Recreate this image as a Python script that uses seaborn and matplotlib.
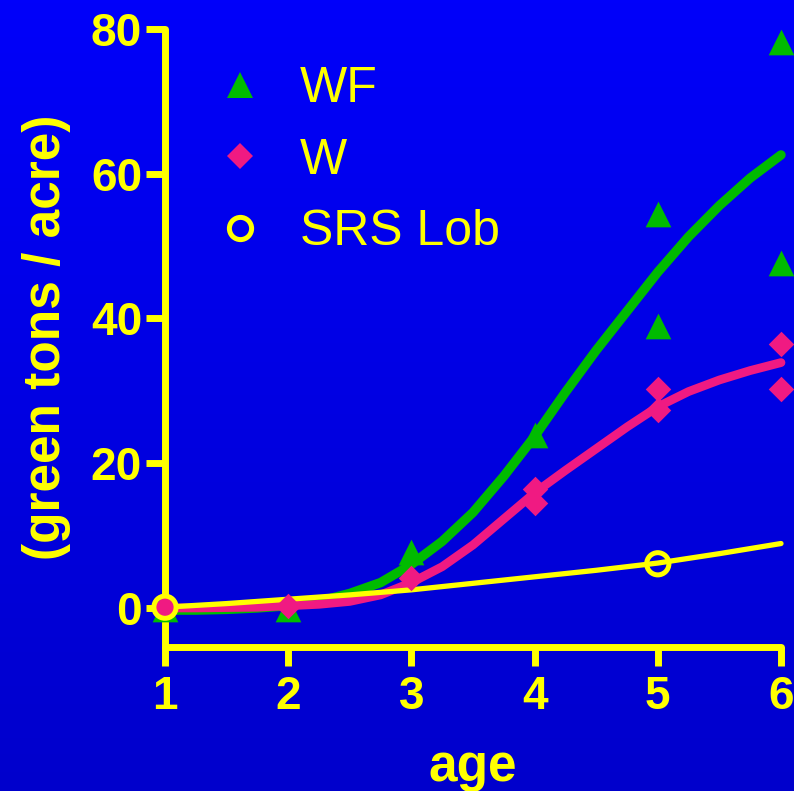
import numpy as np
import pandas as pd
import matplotlib
matplotlib.use("Agg")
import matplotlib.pyplot as plt
import seaborn as sns
from matplotlib.lines import Line2D

# ---------------- data ----------------
wf_age = [1, 2, 3, 4, 5, 5, 6, 6]
wf_tons = [-0.1, -0.1, 7.7, 23.9, 54.4, 39.0, 78.2, 47.7]

w_age = [1, 2, 3, 4, 4, 5, 5, 6, 6]
w_tons = [0.1, 0.2, 4.1, 16.5, 14.5, 30.3, 27.4, 36.5, 30.2]

srs_age = [1, 5]
srs_tons = [0.1, 6.1]

fit_age = [1.0, 1.25, 1.5, 1.75, 2.0, 2.25, 2.5, 2.75, 3.0, 3.25, 3.5,
           3.75, 4.0, 4.25, 4.5, 4.75, 5.0, 5.25, 5.5, 5.75, 6.0]
wf_fit = [-0.3, -0.3, -0.2, 0.0, 0.3, 0.9, 2.0, 3.5, 6.0, 9.2, 13.2,
          18.2, 23.7, 29.8, 35.6, 41.0, 46.4, 51.3, 55.6, 59.4, 62.6]
w_fit = [0.0, 0.0, 0.05, 0.1, 0.3, 0.5, 0.9, 1.8, 3.5, 5.7, 8.7,
         12.3, 15.9, 19.0, 22.0, 25.0, 27.8, 29.9, 31.5, 32.8, 33.9]

srs_fit_age = [1.0, 1.5, 2.0, 2.5, 3.0, 3.5, 4.0, 4.5, 5.0, 5.5, 6.0]
srs_fit = [0.1, 0.6, 1.2, 1.8, 2.5, 3.4, 4.3, 5.2, 6.2, 7.5, 8.9]

x_ticks = [1, 2, 3, 4, 5, 6]
y_ticks = [0, 20, 40, 60, 80]
series_labels = ["WF", "W", "SRS Lob"]

# ---------------- style ----------------
GREEN = "#00BB00"
PINK = "#F01A82"
YELLOW = "#FFFF00"

sns.set_style("ticks")
plt.rcParams["font.family"] = ["Liberation Sans", "DejaVu Sans"]

W, H = 794, 791
fig = plt.figure(figsize=(W / 100, H / 100), dpi=100)

# gradient background
bg = fig.add_axes([0, 0, 1, 1], zorder=-10)
grad = np.linspace(0, 1, 256).reshape(-1, 1)
top = np.array([0, 0, 250]) / 255
bot = np.array([0, 0, 204]) / 255
img = top[None, None, :] * (1 - grad[:, :, None]) + bot[None, None, :] * grad[:, :, None]
bg.imshow(img, aspect="auto", extent=[0, 1, 0, 1])
bg.axis("off")

ax = fig.add_axes([165 / W, 1 - 647 / H, 616 / W, 618 / H])
ax.set_facecolor("none")

fit_df = pd.DataFrame({"age": fit_age, "WF": wf_fit, "W": w_fit})
srs_df = pd.DataFrame({"age": srs_fit_age, "SRS": srs_fit})

line_kw = dict(solid_capstyle="round", solid_joinstyle="round")
sns.lineplot(data=fit_df, x="age", y="WF", color=GREEN, lw=6.8, ax=ax,
             zorder=3, **line_kw)
sns.lineplot(data=fit_df, x="age", y="W", color=PINK, lw=6.3, ax=ax,
             zorder=4, **line_kw)
sns.lineplot(data=srs_df, x="age", y="SRS", color=YELLOW, lw=3.8, ax=ax,
             zorder=5, **line_kw)

sns.scatterplot(x=wf_age, y=wf_tons, marker="^", s=18.5 ** 2, color=GREEN,
                linewidth=0, ax=ax, zorder=6)
sns.scatterplot(x=w_age, y=w_tons, marker="D", s=13 ** 2, color=PINK,
                linewidth=0, ax=ax, zorder=7)
sns.scatterplot(x=srs_age, y=srs_tons, marker="o", s=16 ** 2, color=YELLOW,
                linewidth=3.6, ax=ax, zorder=8)
coll = ax.collections[-1]
coll.set_facecolor("none")
coll.set_edgecolor(YELLOW)
for c in ax.collections:
    c.set_clip_on(False)
for l in ax.lines:
    l.set_clip_on(False)

ax.set_xlim(1, 6)
ax.set_ylim(-5.4, 80)
ax.set_xticks(x_ticks)
ax.set_yticks(y_ticks)
ax.set_xticklabels([str(v) for v in x_ticks])
ax.set_yticklabels([str(v) for v in y_ticks])

for side in ["top", "right"]:
    ax.spines[side].set_visible(False)
for side in ["left", "bottom"]:
    ax.spines[side].set_color(YELLOW)
    ax.spines[side].set_linewidth(5)
    ax.spines[side].set_capstyle("round")

ax.tick_params(axis="both", direction="out", length=14, width=5,
               color=YELLOW, labelcolor=YELLOW, labelsize=33)
ax.tick_params(axis="x", pad=6)
ax.tick_params(axis="y", pad=2.5)
for lab in ax.get_xticklabels() + ax.get_yticklabels():
    lab.set_fontweight("bold")

ax.set_xlabel("age", fontsize=37, fontweight="bold", color=YELLOW)
ax.set_ylabel("(green tons / acre)", fontsize=37, fontweight="bold", color=YELLOW)
ax.xaxis.set_label_coords(0.5, -0.155)
ax.yaxis.set_label_coords(-0.152, 0.501)

handles = [
    Line2D([], [], ls="", marker="^", ms=18.5, mew=0, color=GREEN),
    Line2D([], [], ls="", marker="D", ms=13, mew=0, color=PINK),
    Line2D([], [], ls="", marker="o", ms=16, mew=3.6, mfc="none", mec=YELLOW),
]
leg = ax.legend(handles, series_labels, loc="upper left",
                bbox_to_anchor=(215 / W, 1 - 66 / H), bbox_transform=fig.transFigure,
                frameon=False, fontsize=36, handlelength=1.0, handletextpad=0.7,
                labelspacing=0.51, borderpad=0, borderaxespad=0)
for t in leg.get_texts():
    t.set_color(YELLOW)

fig.savefig("out.png", dpi=100, facecolor="#0000E0")
